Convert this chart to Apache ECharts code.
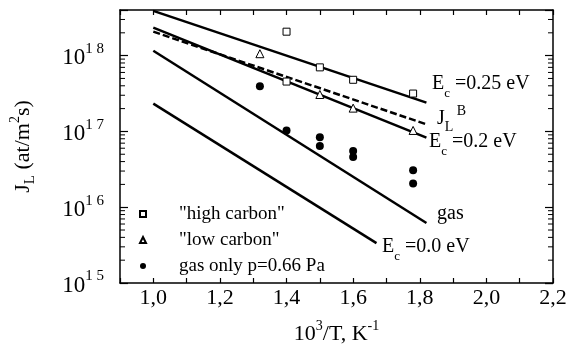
<!DOCTYPE html>
<html>
<head>
<meta charset="utf-8">
<script src="https://cdn.jsdelivr.net/npm/echarts@6/dist/echarts.min.js"></script>
<style>
  html, body { margin: 0; padding: 0; background: #fff; }
  #chart { width: 585px; height: 350px; }
</style>
</head>
<body>
<div id="chart"></div>
<script>
// model lines (x = 10^3/T)
const lineX = [1.0, 1.82];
const ec025Line = [3.9e18, 2.4e17];
const jlbLine = [2.07e18, 1.24e17];
const ec02Line = [2.34e18, 8.3e16];
const gasLine = [1.16e18, 6.2e15];
const ec00X = [1.0, 1.67];
const ec00Line = [2.33e17, 3.36e15];

// measured points
const highX = [1.40, 1.40, 1.50, 1.60, 1.78];
const highY = [2.07e18, 4.55e17, 7.0e17, 4.8e17, 3.16e17];
const lowX = [1.32, 1.50, 1.60, 1.78];
const lowY = [1.06e18, 3.07e17, 2.03e17, 1.03e17];
const gasOnlyX = [1.32, 1.40, 1.50, 1.50, 1.60, 1.60, 1.78, 1.78];
const gasOnlyY = [3.95e17, 1.03e17, 8.4e16, 6.4e16, 5.5e16, 4.6e16, 3.07e16, 2.05e16];

const legendNames = ['"high carbon"', '"low carbon"', 'gas only p=0.66 Pa'];

// axis ranges / minor log ticks
const xMin = 0.9, xMax = 2.2;
const yMin = 1e15, yMax = 4e18;
const minorMantissa = [2, 3, 4, 5, 6, 7, 8, 9];
const minorDecades = [15, 16, 17, 18];

const zip = (xs, ys) => xs.map((x, i) => [x, ys[i]]);
const FONT = '"Liberation Serif", "DejaVu Serif", serif';

const minorTicks = [];
minorDecades.forEach(d => minorMantissa.forEach(m => {
    const v = m * Math.pow(10, d);
    if (v < yMax) minorTicks.push([xMin, v]);
}));

const chart = echarts.init(document.getElementById('chart'));

function solid(data) {
    return {
        type: 'line', data: data, symbol: 'none', silent: true,
        lineStyle: { color: '#000', width: 2.5 }, z: 3
    };
}

const xAxisBase = {
    type: 'value', min: xMin, max: xMax, interval: 0.1,
    axisLine: { show: true, lineStyle: { color: '#000', width: 1.5 } },
    axisTick: { show: true, inside: true, length: 5, lineStyle: { color: '#000', width: 1.2 } },
    splitLine: { show: false }
};
const yAxisBase = {
    type: 'log', logBase: 10, min: yMin, max: yMax,
    axisLine: { show: true, lineStyle: { color: '#000', width: 1.5 } },
    axisTick: { show: true, inside: true, length: 8, lineStyle: { color: '#000', width: 1.2 } },
    splitLine: { show: false }
};

function subLabel(text, left, top) {
    return {
        type: 'text', left: left, top: top, silent: true,
        style: {
            text: text,
            rich: {
                b: { fontFamily: FONT, fontSize: 20, fill: '#000', lineHeight: 26, verticalAlign: 'top' },
                sub: { fontFamily: FONT, fontSize: 13, fill: '#000', lineHeight: 26, verticalAlign: 'bottom' }
            }
        }
    };
}

chart.setOption({
    animation: false,
    backgroundColor: '#fff',
    textStyle: { fontFamily: FONT, color: '#000' },
    grid: { left: 117, right: 32, top: 10, bottom: 66 },
    legend: {
        data: legendNames,
        orient: 'vertical', left: 134, top: 199,
        itemWidth: 6, itemHeight: 6, itemGap: 6,
        textStyle: { fontFamily: FONT, fontSize: 19, lineHeight: 20, color: '#000', padding: [0, 0, 0, 28] }
    },
    xAxis: [
        Object.assign({}, xAxisBase, {
            position: 'bottom',
            axisLabel: {
                fontFamily: FONT, fontSize: 22, color: '#000', margin: 4,
                formatter: v => {
                    const k = Math.round(v * 10);
                    if (Math.abs(v * 10 - k) > 1e-6 || k % 2 !== 0) return '';
                    return v.toFixed(1).replace('.', ',');
                }
            },
            name: '{b|10}{s|3}{b|/T, K}{s|-1}',
            nameLocation: 'middle', nameGap: 36,
            nameTextStyle: {
                rich: {
                    b: { fontFamily: FONT, fontSize: 22, color: '#000', lineHeight: 26, verticalAlign: 'bottom' },
                    s: { fontFamily: FONT, fontSize: 14, color: '#000', lineHeight: 26, verticalAlign: 'top' }
                }
            }
        }),
        Object.assign({}, xAxisBase, { position: 'top', axisLabel: { show: false } })
    ],
    yAxis: [
        Object.assign({}, yAxisBase, {
            position: 'left',
            axisLabel: {
                margin: 16,
                formatter: v => {
                    const e = Math.round(Math.log10(v));
                    if (Math.abs(Math.log10(v) - e) > 1e-6) return '';
                    return '{b|10}{s|' + String(e).split('').join(' ') + '}';
                },
                rich: {
                    b: { fontFamily: FONT, fontSize: 23, color: '#000', lineHeight: 28, verticalAlign: 'bottom' },
                    s: { fontFamily: FONT, fontSize: 15, color: '#000', lineHeight: 28, verticalAlign: 'top' }
                }
            },
            name: '{b|J}{sub|L}{b| (at/m}{s|2}{b|s)}',
            nameLocation: 'middle', nameGap: 82, nameRotate: 90,
            nameTextStyle: {
                rich: {
                    b: { fontFamily: FONT, fontSize: 22, color: '#000', lineHeight: 30 },
                    sub: { fontFamily: FONT, fontSize: 15, color: '#000', lineHeight: 30, verticalAlign: 'bottom' },
                    s: { fontFamily: FONT, fontSize: 14, color: '#000', lineHeight: 30, verticalAlign: 'top' }
                }
            }
        }),
        Object.assign({}, yAxisBase, { position: 'right', axisLabel: { show: false } })
    ],
    series: [
        solid(zip(lineX, ec025Line)),
        Object.assign(solid(zip(lineX, jlbLine)), { lineStyle: { color: '#000', width: 2.5, type: [7, 3] } }),
        solid(zip(lineX, ec02Line)),
        solid(zip(lineX, gasLine)),
        solid(zip(ec00X, ec00Line)),
        {
            name: legendNames[0], type: 'scatter', data: zip(highX, highY),
            symbol: 'rect', symbolSize: 7, z: 4,
            itemStyle: { color: '#fff', borderColor: '#000', borderWidth: 1, opacity: 1 }
        },
        {
            name: legendNames[1], type: 'scatter', data: zip(lowX, lowY),
            symbol: 'triangle', symbolSize: 8, z: 4,
            itemStyle: { color: '#fff', borderColor: '#000', borderWidth: 1, opacity: 1 }
        },
        {
            name: legendNames[2], type: 'scatter', data: zip(gasOnlyX, gasOnlyY),
            symbol: 'circle', symbolSize: 8, z: 4,
            itemStyle: { color: '#000', opacity: 1 }
        },
        {
            type: 'custom', data: minorTicks, silent: true, clip: false, z: 5,
            renderItem: (params, api) => {
                const v = api.value(1);
                const l = api.coord([xMin, v]);
                const r = api.coord([xMax, v]);
                const st = { stroke: '#000', lineWidth: 1 };
                return {
                    type: 'group', children: [
                        { type: 'line', shape: { x1: l[0], y1: l[1], x2: l[0] + 5, y2: l[1] }, style: st },
                        { type: 'line', shape: { x1: r[0], y1: r[1], x2: r[0] - 5, y2: r[1] }, style: st }
                    ]
                };
            }
        }
    ],
    graphic: [
        subLabel('{b|E}{sub|c}{b| =0.25 eV}', 432, 74),
        {
            type: 'text', left: 437, top: 104, silent: true,
            style: {
                text: '{b|J}{sub|L}{s| B}',
                rich: {
                    b: { fontFamily: FONT, fontSize: 20, fill: '#000', lineHeight: 30 },
                    sub: { fontFamily: FONT, fontSize: 14, fill: '#000', lineHeight: 30, verticalAlign: 'bottom' },
                    s: { fontFamily: FONT, fontSize: 14, fill: '#000', lineHeight: 30, verticalAlign: 'top' }
                }
            }
        },
        subLabel('{b|E}{sub|c}{b| =0.2 eV}', 429, 132),
        {
            type: 'text', left: 437, top: 204, silent: true,
            style: { text: 'gas', font: '20px ' + FONT, fill: '#000' }
        },
        subLabel('{b|E}{sub|c}{b| =0.0 eV}', 382, 237)
    ]
});
</script>
</body>
</html>
